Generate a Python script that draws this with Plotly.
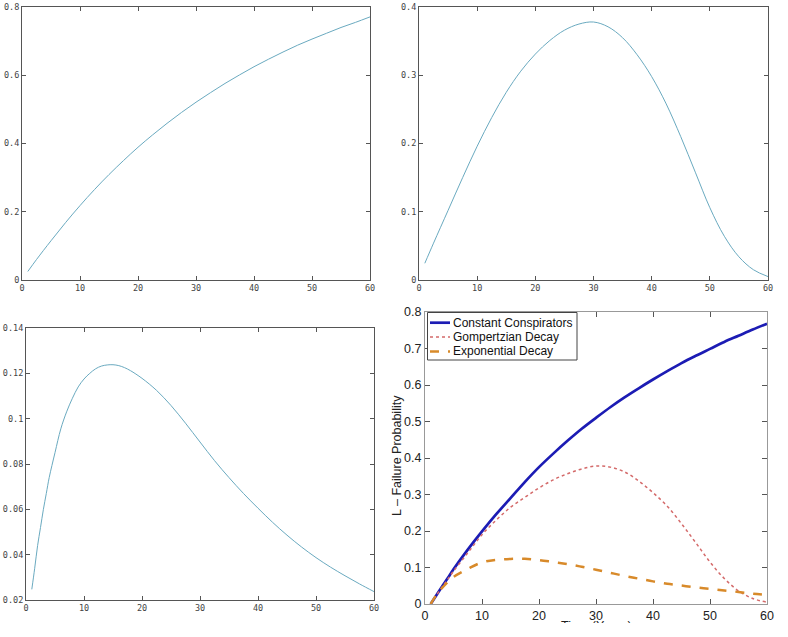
"""Failure probability of a conspiracy over time: constant conspirators,
Gompertzian decay and exponential decay, each on its own, then all together."""
import plotly.graph_objects as go

# values
YEARS = [1, 2.5, 5, 7.5, 10, 12.5, 15, 17.5, 20, 22.5, 25, 27.5, 30,
         32.5, 35, 37.5, 40, 42.5, 45, 47.5, 50, 52.5, 55, 57.5, 60]
CONSTANT = [0.025, 0.060, 0.115, 0.168, 0.218, 0.265, 0.309, 0.350, 0.389,
            0.425, 0.459, 0.491, 0.521, 0.549, 0.576, 0.601, 0.625, 0.647,
            0.668, 0.688, 0.706, 0.723, 0.740, 0.755, 0.771]
GOMPERTZ = [0.0245, 0.054, 0.102, 0.150, 0.196, 0.238, 0.275, 0.306, 0.331,
            0.351, 0.366, 0.375, 0.378, 0.371, 0.355, 0.330, 0.298, 0.258,
            0.210, 0.158, 0.106, 0.064, 0.034, 0.015, 0.005]

EXP_YEARS = [1, 1.5, 2, 2.5, 3, 3.5, 4, 5, 6, 7, 8, 9, 10, 11, 12, 13, 14,
             15, 16, 17, 18, 20, 22.5, 25, 27.5, 30, 32.5, 35, 37.5, 40,
             42.5, 45, 47.5, 50, 52.5, 55, 57.5, 60]
EXPONENTIAL = [0.0247, 0.034, 0.044, 0.052, 0.060, 0.067, 0.074, 0.085,
               0.0955, 0.103, 0.109, 0.114, 0.1175, 0.120, 0.122, 0.1232,
               0.1237, 0.1238, 0.1234, 0.1225, 0.1212, 0.1178, 0.1125,
               0.1058, 0.098, 0.0897, 0.0815, 0.074, 0.067, 0.0605, 0.0543,
               0.0486, 0.0434, 0.0387, 0.0345, 0.0307, 0.0271, 0.0237]

# values (curves start at zero there)
ALL_YEARS = [1, 2, 3, 4, 5, 7.5, 10, 12.5, 15, 17.5, 20, 22.5, 25, 27.5, 30,
             32.5, 35, 37.5, 40, 42.5, 45, 47.5, 50, 52.5, 55, 57.5, 60]
ALL_CONSTANT = [0.0, 0.024, 0.048, 0.071, 0.095, 0.149, 0.199, 0.246, 0.290,
                0.334, 0.375, 0.412, 0.447, 0.480, 0.510, 0.539, 0.566,
                0.591, 0.615, 0.638, 0.660, 0.680, 0.699, 0.718, 0.735,
                0.752, 0.768]
ALL_GOMPERTZ = [0.0, 0.024, 0.046, 0.068, 0.090, 0.140, 0.190, 0.230, 0.265,
                0.292, 0.318, 0.340, 0.357, 0.370, 0.378, 0.375, 0.362,
                0.337, 0.305, 0.268, 0.220, 0.168, 0.115, 0.070, 0.036,
                0.015, 0.005]
ALL_EXPONENTIAL = [0.0, 0.025, 0.044, 0.060, 0.074, 0.096, 0.114, 0.121,
                   0.1235, 0.1238, 0.1205, 0.115, 0.1095, 0.102, 0.094,
                   0.0855, 0.077, 0.0695, 0.062, 0.0555, 0.0505, 0.0455,
                   0.0415, 0.037, 0.033, 0.0285, 0.025]

LEGEND_NAMES = ['Constant Conspirators', 'Gompertzian Decay', 'Exponential Decay']
LEGEND_LINES = [dict(color='#1c1cb4', width=2.7),
                dict(color='#d46a6a', width=1.5, dash='dot'),
                dict(color='#d88a2a', width=2.5, dash='dash')]

WIDTH, HEIGHT = 788, 623


def px_x(px: float) -> float:
    """pixel column -> paper x"""
    return px / WIDTH


def px_y(py: float) -> float:
    """pixel row (from top) -> paper y"""
    return 1 - py / HEIGHT


def axis_style(domain: list, rng: list, dtick: float, font: dict, ticklen: int,
               frame: str) -> dict:
    """boxed axis with inside ticks on all four sides"""
    return dict(domain=domain, range=rng, dtick=dtick, tick0=0, ticks='inside',
                ticklen=ticklen, tickcolor='#555', showline=True, linecolor=frame,
                linewidth=1, mirror='ticks', showgrid=False, zeroline=False,
                tickfont=font, fixedrange=True, automargin=False)


def add_legend_box(fig: go.Figure) -> None:
    """matlab style compact legend in the top left corner of the combined panel"""
    fig.add_shape(type='rect', xref='paper', yref='paper',
                  x0=px_x(427.5), x1=px_x(577), y0=px_y(360), y1=px_y(312.5),
                  line=dict(color='#444', width=1), fillcolor='white', layer='above')
    rows = [322.7, 336.9, 351.4]
    for name, line, row in zip(LEGEND_NAMES, LEGEND_LINES, rows):
        fig.add_shape(type='line', xref='paper', yref='paper',
                      x0=px_x(430), x1=px_x(450), y0=px_y(row), y1=px_y(row),
                      line=line, layer='above')
        fig.add_annotation(text=name, xref='paper', yref='paper', x=px_x(450.5),
                           y=px_y(row), xanchor='left', yanchor='middle', showarrow=False,
                           font=dict(family='Liberation Sans', size=12, color='#111'))


def main() -> None:
    """build the four panels and write the page"""
    small = dict(family='DejaVu Sans Mono', size=8.5, color='#444')
    big = dict(family='Liberation Sans', size=12.5, color='#222')
    thin = dict(color='#6aaac0', width=1)

    fig = go.Figure()
    fig.add_trace(go.Scatter(x=YEARS, y=CONSTANT, mode='lines', line=thin,
                             line_shape='spline', xaxis='x', yaxis='y'))
    fig.add_trace(go.Scatter(x=YEARS, y=GOMPERTZ, mode='lines', line=thin,
                             line_shape='spline', xaxis='x2', yaxis='y2'))
    fig.add_trace(go.Scatter(x=EXP_YEARS, y=EXPONENTIAL, mode='lines', line=thin,
                             line_shape='spline', xaxis='x3', yaxis='y3'))
    for values, name, line in zip([ALL_CONSTANT, ALL_GOMPERTZ, ALL_EXPONENTIAL],
                                  LEGEND_NAMES, LEGEND_LINES):
        fig.add_trace(go.Scatter(x=ALL_YEARS, y=values, mode='lines', name=name,
                                 line=line, line_shape='spline', xaxis='x4', yaxis='y4'))

    top = [px_y(280), px_y(7)]
    dark, light = '#555', '#999'
    fig.update_layout(
        width=WIDTH, height=HEIGHT, margin=dict(l=0, r=0, t=0, b=0),
        paper_bgcolor='white', plot_bgcolor='white', showlegend=False,
        xaxis=axis_style([px_x(22), px_x(370)], [0, 60], 10, small, 4, dark),
        yaxis=axis_style(top, [0, 0.8], 0.2, small, 4, dark),
        xaxis2=axis_style([px_x(419), px_x(768)], [0, 60], 10, small, 4, dark),
        yaxis2=axis_style(top, [0, 0.4], 0.1, small, 4, dark),
        xaxis3=axis_style([px_x(26), px_x(374)], [0, 60], 10, small, 4, dark),
        yaxis3=axis_style([px_y(600), px_y(328)], [0.02, 0.14], 0.02, small, 4, dark),
        xaxis4=axis_style([px_x(425), px_x(767)], [0, 60], 10, big, 5, light),
        yaxis4=axis_style([px_y(604), px_y(312)], [0, 0.8], 0.1, big, 5, light),
    )
    fig.update_layout(
        xaxis2_anchor='y2', yaxis2_anchor='x2',
        xaxis3_anchor='y3', yaxis3_anchor='x3',
        xaxis4_anchor='y4', yaxis4_anchor='x4',
    )
    add_legend_box(fig)
    fig.add_annotation(text='L – Failure Probability', xref='paper', yref='paper',
                       x=px_x(397), y=px_y(456), textangle=-90, xanchor='center',
                       yanchor='middle', showarrow=False, font=big)
    # x title of the combined panel: only its top shows, the rest falls off the page
    fig.add_annotation(text='Time (Years)', xref='paper', yref='paper',
                       x=px_x(596), y=px_y(617), xanchor='center', yanchor='top',
                       showarrow=False, font=big)

    # the page body has a default 8px margin; drop it so the figure sits at 0,0
    fig.write_html("out.html", config={'displayModeBar': False},
                   post_script="document.body.style.margin = '0px';")


if __name__ == '__main__':
    main()
